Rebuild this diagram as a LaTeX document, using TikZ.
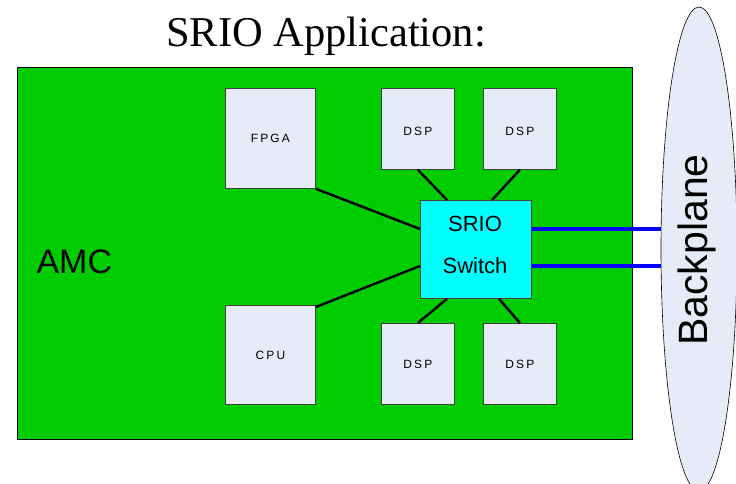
\documentclass[tikz,border=0pt]{standalone}
\usepackage{fontspec}
\setmainfont{Liberation Serif}
\newfontfamily\arialf{Liberation Sans}
\newfontfamily\spacedf[LetterSpace=18]{Liberation Sans}
\usetikzlibrary{shapes.geometric}
\definecolor{boardgreen}{HTML}{00CC00}
\definecolor{chipfill}{HTML}{E6ECF7}
\definecolor{swcyan}{HTML}{00FFFF}
\definecolor{linkblue}{HTML}{0000FF}
\definecolor{chipedge}{HTML}{404040}
\begin{document}
\begin{tikzpicture}[x=1pt,y=-1pt,
  chip/.style={draw=chipedge,line width=0.8pt,fill=chipfill,anchor=north west,inner sep=0pt},
  chiplabel/.style={font=\spacedf\fontsize{12}{14}\selectfont},
  wire/.style={draw=black,line width=2.4pt},
  link/.style={draw=linkblue,line width=3.6pt}]
\useasboundingbox (0,0) rectangle (736,484);
% board
\node[draw=black,line width=0.8pt,fill=boardgreen,anchor=north west,minimum width=615pt,minimum height=372pt,inner sep=0pt] (amc) at (17,67) {};
\node[font=\arialf\fontsize{34}{38}\selectfont,anchor=west] (amclbl) at (33,262) {AMC};
% backplane
\node[draw=black,line width=0.6pt,fill=chipfill,ellipse,minimum width=76pt,minimum height=484pt,inner sep=0pt] (bp) at (699,249) {};
\node[font=\arialf\fontsize{41}{44}\selectfont,rotate=90] (bplbl) at (697,250) {Backplane};
% title
\node[font=\fontsize{42.5}{46}\selectfont] (title) at (326,36) {SRIO Application:};
% chips
\node[chip,minimum width=90pt,minimum height=100pt] (fpga) at (225,88) {};
\node[chiplabel] at (fpga.center) {FPGA};
\node[chip,minimum width=90pt,minimum height=99pt] (cpu) at (225,305) {};
\node[chiplabel] at (cpu.center) {CPU};
\node[chip,minimum width=73pt,minimum height=81pt] (dspa) at (381,88) {};
\node[chiplabel] at ([yshift=-2pt]dspa.center) {DSP};
\node[chip,minimum width=73pt,minimum height=81pt] (dspb) at (483,88) {};
\node[chiplabel] at ([yshift=-2pt]dspb.center) {DSP};
\node[chip,minimum width=73pt,minimum height=81pt] (dspc) at (381,323) {};
\node[chiplabel] at (dspc.center) {DSP};
\node[chip,minimum width=73pt,minimum height=81pt] (dspd) at (483,323) {};
\node[chiplabel] at (dspd.center) {DSP};
% switch
\node[draw=chipedge,line width=0.8pt,fill=swcyan,anchor=north west,minimum width=111pt,minimum height=98pt,inner sep=0pt] (sw) at (420,200) {};
\node[font=\arialf\fontsize{22}{24}\selectfont] (swa) at (475,224) {SRIO};
\node[font=\arialf\fontsize{22}{24}\selectfont] (swb) at (475,266) {Switch};
% anchor points on the switch
\coordinate (swl1) at ([yshift=-29pt]sw.north west);
\coordinate (swl2) at ([yshift=-66pt]sw.north west);
\coordinate (swr1) at ([yshift=-29pt]sw.north east);
\coordinate (swr2) at ([yshift=-66pt]sw.north east);
\coordinate (swt1) at ([xshift=27pt]sw.north west);
\coordinate (swt2) at ([xshift=72pt]sw.north west);
\coordinate (swb1) at ([xshift=27pt]sw.south west);
\coordinate (swb2) at ([xshift=79pt]sw.south west);
% wires
\draw[wire] (fpga.south east) -- (swl1);
\draw[wire] ([yshift=-2pt]cpu.north east) -- (swl2);
\draw[wire] (dspa.south) -- (swt1);
\draw[wire] (dspb.south) -- (swt2);
\draw[wire] (dspc.north) -- (swb1);
\draw[wire] (dspd.north) -- (swb2);
% links to backplane
\draw[link] (swr1) -- (bp.west |- swr1);
\draw[link] (swr2) -- (bp.west |- swr2);
\end{tikzpicture}
\end{document}
